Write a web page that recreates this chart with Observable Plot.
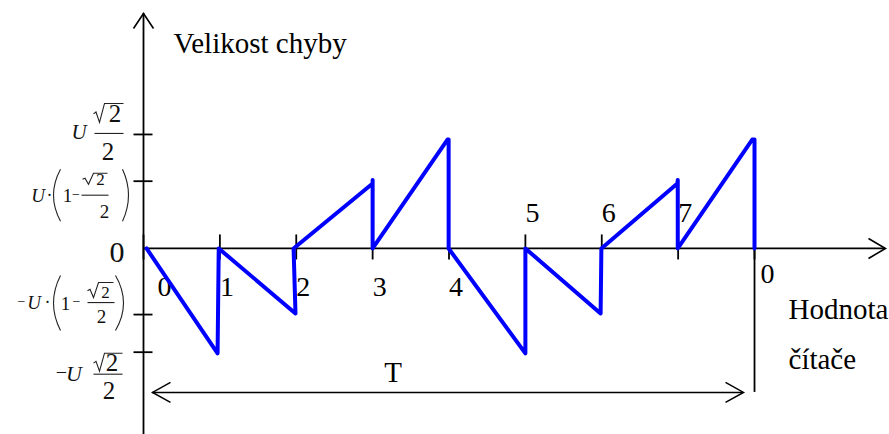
<!DOCTYPE html>
<html>
<head>
<meta charset="utf-8">
<script src="https://cdn.jsdelivr.net/npm/d3@7"></script>
<script src="https://cdn.jsdelivr.net/npm/@observablehq/plot@0.6"></script>
<style>
  html, body { margin: 0; padding: 0; background: #ffffff; }
  #chart { width: 889px; height: 434px; }
</style>
</head>
<body>
<div id="chart"></div>
<script>
// ---------------- data ----------------
const counterX = [0.04, 0.97, 0.985, 1.99, 1.965, 3.0, 3.0, 3.0, 3.98, 3.995, 3.995, 5.0, 5.0, 5.985, 5.995, 6.99, 6.995, 6.995, 7.97, 8.0, 8.0];
const errorY   = [0, -0.92, 0, -0.57, 0, 0.57, 0.6, 0, 0.955, 0.955, 0, -0.92, 0, -0.57, 0, 0.57, 0.6, 0, 0.955, 0.955, 0];
const xTickValues = [0, 1, 2, 3, 4, 5, 6, 7, 8];
const xTickLabels = ["0", "1", "2", "3", "4", "5", "6", "7", "0"];
const yTickValues = [1.0, 0.59, 0, -0.58, -0.91];
const yTickLabels = ["U√2/2", "U·(1−√2/2)", "0", "−U·(1−√2/2)", "−U√2/2"];
const periodStart = 0;
const periodEnd = 8;
const periodLabel = "T";
const yTitle = "Velikost chyby";
const xTitleLines = ["Hodnota", "čítače"];

// ---------------- layout constants ----------------
const X_MAX = 9.715, Y_MAX = 2.061, Y_MIN = -1.632;
const PERIOD_Y = -1.263;
const FONT = "Liberation Serif";

// custom symbol helpers (pixel offsets relative to the scaled anchor)
const poly = (...paths) => ({
  draw(ctx) {
    for (const pts of paths) {
      ctx.moveTo(pts[0][0], pts[0][1]);
      for (let i = 1; i < pts.length; i++) ctx.lineTo(pts[i][0], pts[i][1]);
    }
  }
});
const radical = (L, T, B, R) => {
  const h = B - T;
  return poly([[L, B - 0.45 * h], [L + 2.5, B - 0.55 * h], [L + 6, B], [L + 11, T], [R, T]]);
};
const bar = (x1, x2, y) => poly([[x1, y], [x2, y]]);
const paren = (xl, xr, top, bot, open) => ({
  draw(ctx) {
    const mid = (top + bot) / 2;
    if (open) { ctx.moveTo(xr, top); ctx.quadraticCurveTo(2 * xl - xr, mid, xr, bot); }
    else { ctx.moveTo(xl, top); ctx.quadraticCurveTo(2 * xr - xl, mid, xl, bot); }
  }
});

// [text, dx(center), dy(baseline), fontSize, italic]
const labelLayouts = {
  "U√2/2": {
    texts: [["U", -64.5, 5, 21, true], ["2", -28.5, -12, 25], ["2", -35.5, 26, 25]],
    shapes: [radical(-50, -31, -12, -20), bar(-49, -20, -1)]
  },
  "U·(1−√2/2)": {
    texts: [["U", -105.5, 21, 19, true], ["·", -94, 20, 18], ["1", -76, 21, 19], ["−", -67.5, 18, 14],
            ["2", -43, 4, 17], ["2", -39, 37, 19]],
    shapes: [paren(-90, -83, -12, 40, true), paren(-21, -15, -12, 40, false),
             radical(-61, -8, 3, -36), bar(-62, -35, 14)]
  },
  "0": {
    texts: [["0", -26.5, 14, 30]],
    shapes: []
  },
  "−U·(1−√2/2)": {
    texts: [["−", -122, -9, 14], ["U", -109.5, -6, 19, true], ["·", -96, -7, 18], ["1", -78, -5, 19],
            ["−", -67, -9, 14], ["2", -38, -17, 17], ["2", -42, 8, 19]],
    shapes: [paren(-90, -83, -39, 16, true), paren(-28, -20, -39, 16, false),
             radical(-56, -32, -17, -30), bar(-56, -29, -12)]
  },
  "−U√2/2": {
    texts: [["−", -82, 26.5, 20], ["U", -69.5, 29, 22, true], ["2", -31.5, 19, 25], ["2", -34.5, 47, 25]],
    shapes: [radical(-50, 1, 19, -21), bar(-50, -21, 22)]
  }
};

const vTick = poly([[0, -14], [0, 11]]);
const hTick = poly([[-10, 0], [9, 0]]);
const arrowRight = poly([[-17, -10], [0, 0], [-17, 10]]);
const arrowUp = poly([[-10, 15], [0, 0], [10, 15]]);
const arrowLeftT = poly([[18, -10], [0, 0], [18, 10]]);
const arrowRightT = poly([[-18, -10], [0, 0], [-18, 10]]);

// ---------------- marks ----------------
const marks = [];

// axes
marks.push(Plot.ruleX([0], {stroke: "black", strokeWidth: 1.8}));
marks.push(Plot.ruleY([0], {stroke: "black", strokeWidth: 1.8}));
marks.push(Plot.dot([X_MAX], {x: d => d, y: 0, symbol: arrowRight, stroke: "black", fill: "none", strokeWidth: 1.6}));
marks.push(Plot.dot([Y_MAX], {x: 0, y: d => d, symbol: arrowUp, stroke: "black", fill: "none", strokeWidth: 1.6}));

// ticks
marks.push(Plot.dot(xTickValues, {x: d => d, y: 0, symbol: vTick, stroke: "black", fill: "none", strokeWidth: 1.8}));
marks.push(Plot.dot(yTickValues.filter(v => v !== 0), {x: 0, y: d => d, symbol: hTick, stroke: "black", fill: "none", strokeWidth: 1.8}));

// x tick labels
xTickValues.forEach((v, i) => {
  let dx = 0, dy = 48;
  if (i === 0) dx = 14;
  else if (i >= 5 && i <= 7) dy = -26;
  else if (i === 8) { dx = 6; dy = 35; }
  marks.push(Plot.text([v], {x: d => d, y: 0, text: () => xTickLabels[i], dx, dy,
    textAnchor: "start", lineAnchor: "bottom", fontSize: 28, fontFamily: FONT, fill: "black"}));
});

// y tick labels (compound math labels)
yTickValues.forEach((v, i) => {
  const lay = labelLayouts[yTickLabels[i]];
  for (const [t, dx, dy, size, italic] of lay.texts) {
    marks.push(Plot.text([v], {x: 0, y: d => d, text: () => t, dx, dy, fontSize: size,
      fontStyle: italic ? "italic" : "normal", textAnchor: "middle", lineAnchor: "bottom",
      fontFamily: FONT, fill: "#111"}));
  }
  for (const s of lay.shapes) {
    marks.push(Plot.dot([v], {x: 0, y: d => d, symbol: s, stroke: "#222", fill: "none", strokeWidth: 1.1}));
  }
});

// titles
marks.push(Plot.text([Y_MAX], {x: 0, y: d => d, text: () => yTitle, dx: 30, dy: 39,
  textAnchor: "start", lineAnchor: "bottom", fontSize: 29, fontFamily: FONT, fill: "black"}));
xTitleLines.forEach((t, i) => {
  marks.push(Plot.text([periodEnd], {x: d => d, y: 0, text: () => t, dx: 34, dy: 71 + 50 * i,
    textAnchor: "start", lineAnchor: "bottom", fontSize: 29, fontFamily: FONT, fill: "black"}));
});

// period T
marks.push(Plot.ruleX([periodEnd], {y1: 0, y2: PERIOD_Y, stroke: "black", strokeWidth: 1.8}));
marks.push(Plot.ruleY([PERIOD_Y], {x1: periodStart, x2: periodEnd, insetLeft: 9, insetRight: 11,
  stroke: "black", strokeWidth: 1.5}));
marks.push(Plot.dot([periodStart], {x: d => d, y: PERIOD_Y, dx: 9, symbol: arrowLeftT, stroke: "black", fill: "none", strokeWidth: 1.5}));
marks.push(Plot.dot([periodEnd], {x: d => d, y: PERIOD_Y, dx: -11, symbol: arrowRightT, stroke: "black", fill: "none", strokeWidth: 1.5}));
marks.push(Plot.text([(periodStart + periodEnd) / 2], {x: d => d, y: PERIOD_Y, text: () => periodLabel, dx: -56, dy: -10,
  textAnchor: "middle", lineAnchor: "bottom", fontSize: 29, fontFamily: FONT, fill: "black"}));

// error sawtooth
marks.push(Plot.line(counterX.map((x, i) => ({x, y: errorY[i]})), {x: "x", y: "y",
  stroke: "#0000ff", strokeWidth: 4, strokeLinejoin: "round", strokeLinecap: "round"}));

const chart = Plot.plot({
  width: 889,
  height: 434,
  marginLeft: 143,
  marginRight: 4,
  marginTop: 13,
  marginBottom: 0,
  x: {domain: [0, X_MAX], axis: null},
  y: {domain: [Y_MIN, Y_MAX], axis: null},
  style: {background: "white", fontFamily: FONT, overflow: "visible"},
  marks
});
document.getElementById("chart").appendChild(chart);
</script>
</body>
</html>
